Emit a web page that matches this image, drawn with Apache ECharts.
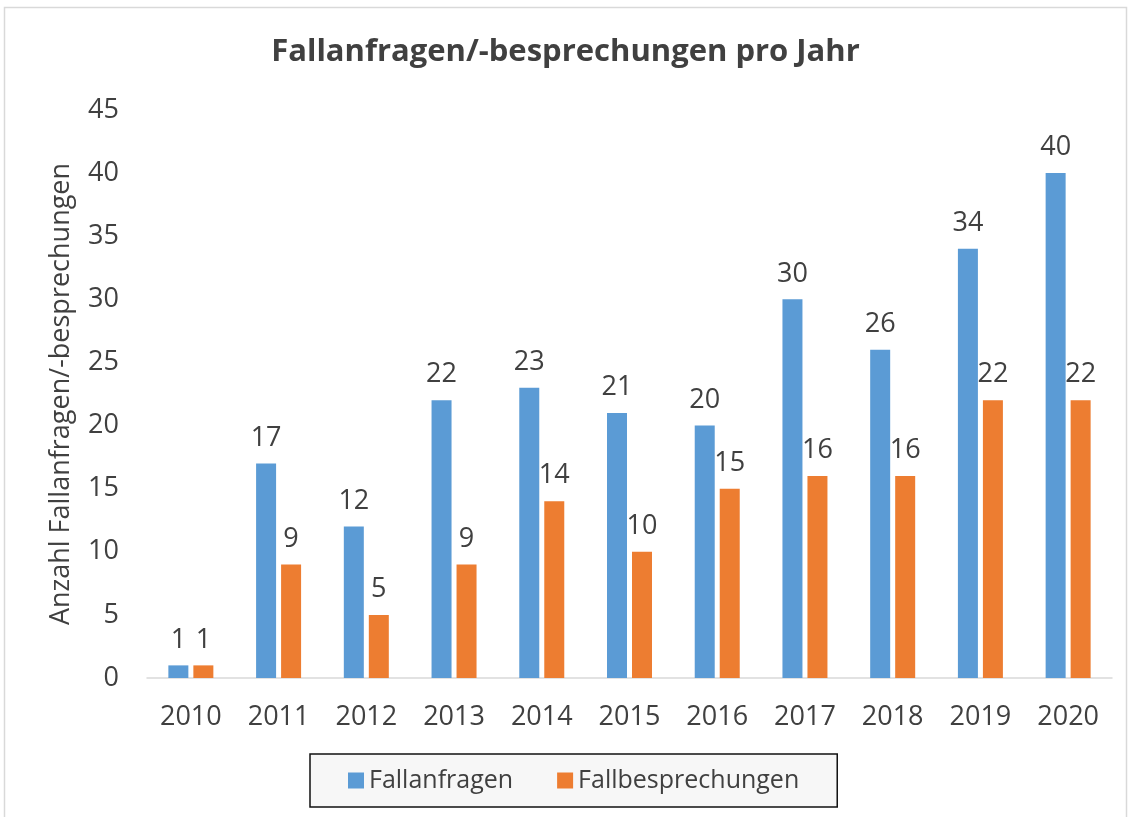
<!DOCTYPE html>
<html>
<head>
<meta charset="utf-8">
<script src="https://cdn.jsdelivr.net/npm/echarts@6/dist/echarts.min.js"></script>
<style>
 html,body{margin:0;padding:0;background:#fff;}
 #chart{width:1131px;height:817px;}
</style>
</head>
<body>
<div id="chart"></div>
<script>
 var years=['2010','2011','2012','2013','2014','2015','2016','2017','2018','2019','2020'];
 var anfragen=[1,17,12,22,23,21,20,30,26,34,40];
 var besprechungen=[1,9,5,9,14,10,15,16,16,22,22];
 var yTicks=[0,45,5]; // min, max, interval

 var txt='#404040';
 var fnt='"Open Sans", "Noto Sans", sans-serif';

 var myChart=echarts.init(document.getElementById('chart'));
 var lbl={show:true,position:'top',distance:12,fontSize:27,color:txt,fontFamily:fnt};
 var option={
	 textStyle:{fontFamily:fnt},
	 graphic:[{
		 type:'rect',
		 shape:{x:4.5,y:7.5,width:1122,height:820},
		 style:{fill:'none',stroke:'#d9d9d9',lineWidth:1.5},
		 silent:true
	 }],
	 title:{
		 text:'Fallanfragen/-besprechungen pro Jahr',
		 left:'center',
		 top:32,
		 textStyle:{fontSize:31,fontWeight:'bold',color:txt,fontFamily:fnt}
	 },
	 legend:{
		 data:['Fallanfragen','Fallbesprechungen'],
		 left:310,
		 top:754,
		 icon:'rect',
		 itemWidth:16,
		 itemHeight:16,
		 itemGap:44,
		 padding:[14,38,14,38],
		 backgroundColor:'#f7f7f7',
		 borderColor:'#111',
		 borderWidth:1.5,
		 textStyle:{fontSize:25,color:txt,fontFamily:fnt}
	 },
	 grid:{left:147,right:19,top:110,bottom:139,containLabel:false},
	 xAxis:{
		 type:'category',
		 data:years,
		 axisLine:{lineStyle:{color:'#d9d9d9',width:1.5}},
		 axisTick:{show:false},
		 axisLabel:{fontSize:27,color:txt,margin:26,fontFamily:fnt}
	 },
	 yAxis:{
		 type:'value',
		 min:yTicks[0],
		 max:yTicks[1],
		 interval:yTicks[2],
		 name:'Anzahl Fallanfragen/-besprechungen',
		 nameLocation:'middle',
		 nameGap:72,
		 nameTextStyle:{fontSize:27,color:txt,fontFamily:fnt},
		 axisLine:{show:false},
		 axisTick:{show:false},
		 splitLine:{show:false},
		 axisLabel:{fontSize:27,color:txt,margin:28,fontFamily:fnt}
	 },
	 series:[
		 {name:'Fallanfragen',type:'bar',data:anfragen,barWidth:20,barGap:'25%',
		  itemStyle:{color:'#5b9bd5'},label:lbl},
		 {name:'Fallbesprechungen',type:'bar',data:besprechungen,barWidth:20,barGap:'25%',
		  itemStyle:{color:'#ed7d31'},label:lbl}
	 ]
 };
 myChart.setOption(option);
</script>
</body>
</html>
